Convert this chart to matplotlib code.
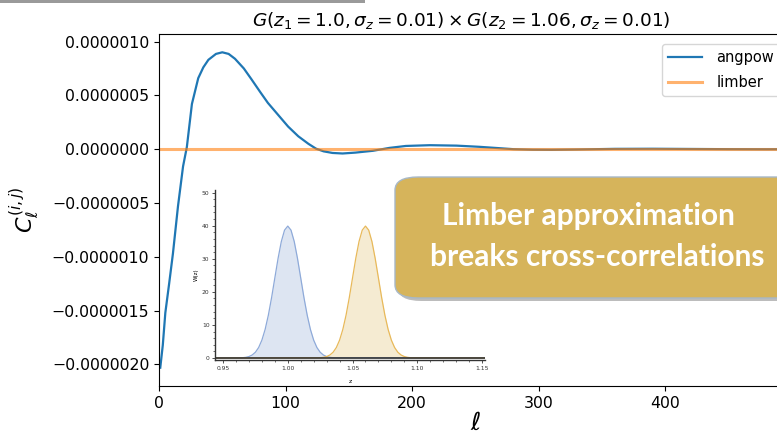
import matplotlib.pyplot as plt
import matplotlib.ticker as mticker
from matplotlib.patches import FancyBboxPatch, Rectangle

# angpow cross-spectrum (units of 1e-7)
ell = [1, 3, 5, 8, 11, 15, 19, 22, 26, 31, 35, 39, 45, 50, 55, 60, 67, 73, 80, 86,
       94, 102, 110, 118, 124, 130, 137, 145, 155, 169, 182, 195, 214, 235, 253,
       268, 280, 295, 310, 330, 360, 390, 420, 450, 480, 500]
angpow = [-20.3, -18.2, -15.2, -12.5, -9.7, -5.3, -1.6, 0.2, 4.2, 6.6, 7.6, 8.3, 8.85,
          9.0, 8.85, 8.4, 7.5, 6.5, 5.3, 4.3, 3.2, 2.1, 1.2, 0.5, 0.05, -0.2,
          -0.35, -0.4, -0.32, -0.15, 0.12, 0.3, 0.37, 0.33, 0.22, 0.1, 0.0, -0.05,
          -0.06, -0.03, 0.03, 0.04, 0.02, 0.0, -0.01, 0.0]
angpow = [v * 1e-7 for v in angpow]
ell_limber = [1, 100, 200, 300, 400, 500]
limber = [0.0, 0.0, 0.0, 0.0, 0.0, 0.0]

# selection functions shown in the inset
z_offsets = [-0.035, -0.0325, -0.03, -0.0275, -0.025, -0.0225, -0.02, -0.0175, -0.015,
             -0.0125, -0.01, -0.0075, -0.005, -0.0025, 0.0, 0.0025, 0.005, 0.0075,
             0.01, 0.0125, 0.015, 0.0175, 0.02, 0.0225, 0.025, 0.0275, 0.03,
             0.0325, 0.035]
w_profile = [0.09, 0.2, 0.44, 0.91, 1.75, 3.17, 5.4, 8.63, 12.95, 18.26, 24.2, 30.11,
             35.2, 38.66, 39.89, 38.66, 35.2, 30.11, 24.2, 18.26, 12.95, 8.63, 5.4,
             3.17, 1.75, 0.91, 0.44, 0.2, 0.09]
z_means = [1.0, 1.06]
z_ticks = [0.95, 1.00, 1.05, 1.10, 1.15]
w_ticks = [0, 10, 20, 30, 40, 50]

fig = plt.figure(figsize=(7.77, 4.38), dpi=100)
ax = fig.add_axes([159 / 777, 1 - 386 / 438, 633 / 777, 352 / 438])

ax.plot(ell, angpow, color='#1f77b4', lw=1.6, label='angpow')
ax.plot(ell_limber, limber, color='#ff7f0e', lw=2.2, alpha=0.6, label='limber')
ax.set_xlim(0, 500)
ax.set_ylim(-2.2e-6, 1.07e-6)
ax.set_xticks([0, 100, 200, 300, 400])
ax.set_yticks([-2e-6, -1.5e-6, -1e-6, -5e-7, 0, 5e-7, 1e-6])
ax.yaxis.set_major_formatter(
    mticker.FuncFormatter(lambda v, p: ('%.7f' % v).replace('-', '\u2212')))
ax.tick_params(labelsize=11.3)
ax.set_title(r'$G(z_1 = 1.0, \sigma_z = 0.01) \times G(z_2 = 1.06, \sigma_z = 0.01)$',
             fontsize=13.3, x=0.478, pad=6)
ax.set_xlabel(r'$\ell$', fontsize=18, labelpad=0)
ax.set_ylabel(r'$C_\ell^{(i,j)}$', fontsize=16, labelpad=8)
ax.legend(loc='upper right', fontsize=10.5, handlelength=2.3, handletextpad=1.0,
          labelspacing=0.7, bbox_to_anchor=(780 / 777, 1 - 44 / 438),
          bbox_transform=fig.transFigure, borderaxespad=0)

# inset with the two redshift windows
ins = fig.add_axes([215 / 777, 1 - 360 / 438, 270 / 777, 170 / 438])
ins.set_facecolor('white')
fills = [('#dde5f2', '#8eaad9'), ('#f5ebd2', '#e8b95a')]
for zm, (fc, ec) in zip(z_means, fills):
    zz = [0.94] + [zm + d for d in z_offsets] + [1.16]
    ww = [0.0] + w_profile + [0.0]
    ins.fill_between(zz, 0, ww, color=fc, lw=0)
    ins.plot(zz, ww, color=ec, lw=0.9)
ins.axhline(0, color='#333333', lw=1.2)
ins.set_xlim(0.9438, 1.1523)
ins.set_ylim(-0.6, 50.8)
ins.set_xticks(z_ticks)
ins.set_xticklabels(['%.2f' % t for t in z_ticks])
ins.set_yticks(w_ticks)
ins.xaxis.set_minor_locator(mticker.MultipleLocator(0.01))
ins.yaxis.set_minor_locator(mticker.MultipleLocator(2))
ins.tick_params(labelsize=4.3, length=2.5, width=0.6, pad=1.5, colors='#333333')
ins.tick_params(which='minor', length=1.3, width=0.4)
ins.spines['top'].set_visible(False)
ins.spines['right'].set_visible(False)
for s in ['left', 'bottom']:
    ins.spines[s].set_color('#333333')
    ins.spines[s].set_linewidth(1.0)
ins.set_xlabel('z', fontsize=4.5, labelpad=6)
ins.set_ylabel('W(z)', fontsize=4, labelpad=2)

# callout box
shadow = FancyBboxPatch((398 / 777, 1 - 301 / 438), 420 / 777, 121 / 438,
                        boxstyle='round,pad=0,rounding_size=0.03',
                        transform=fig.transFigure, fc='#7a7a7a', ec='none',
                        alpha=0.5, zorder=5)
box = FancyBboxPatch((395 / 777, 1 - 298 / 438), 420 / 777, 121 / 438,
                     boxstyle='round,pad=0,rounding_size=0.03',
                     transform=fig.transFigure, fc='#d6b45b', ec='#a7b8c8',
                     lw=1.0, zorder=6)
fig.patches.extend([shadow, box])
fig.text(588 / 777, 1 - 216 / 438, 'Limber approximation', color='white',
         fontsize=21.5, fontweight='bold', family='Lato', ha='center', va='center',
         zorder=7)
fig.text(597 / 777, 1 - 257 / 438, 'breaks cross-correlations', color='white',
         fontsize=21.5, fontweight='bold', family='Lato', ha='center', va='center',
         zorder=7)

# grey bar of the slide at the top
fig.patches.append(Rectangle((0, 1 - 3 / 438), 365 / 777, 3 / 438,
                             transform=fig.transFigure, fc='#9a9a9a', ec='none'))

fig.savefig('out.png', dpi=100)
